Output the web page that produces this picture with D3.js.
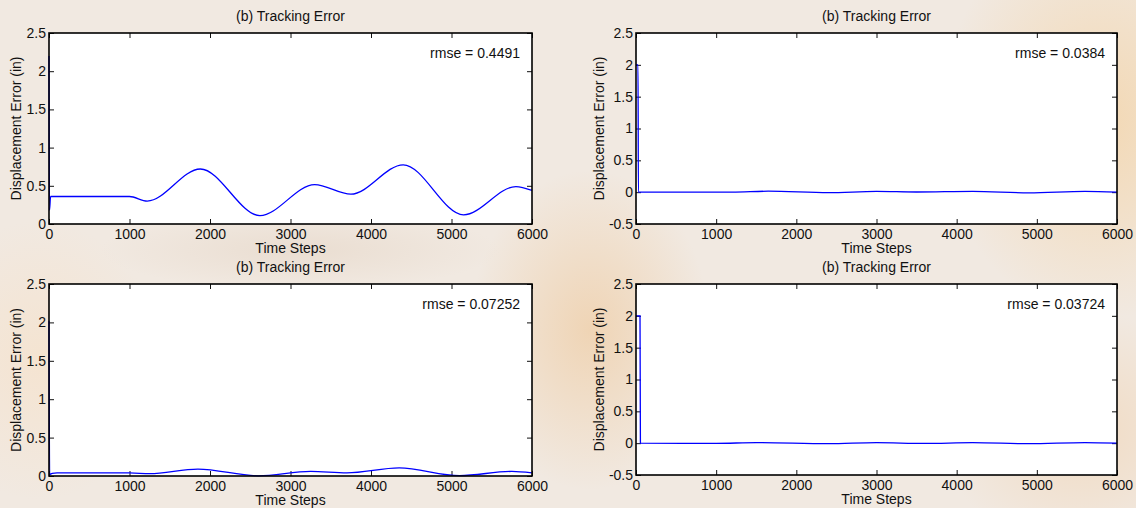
<!DOCTYPE html>
<html>
<head>
<meta charset="utf-8">
<script src="https://cdn.jsdelivr.net/npm/d3@7"></script>
<style>
  body { margin: 0; background: #f1e9e1; }
  svg { display: block; }
  text { font-family: "Liberation Sans", Arial, sans-serif; fill: #111; }
</style>
</head>
<body>
<svg id="chart" width="1136" height="508"></svg>
<script>
// tick labels
var timeTicks = [0, 1000, 2000, 3000, 4000, 5000, 6000];
var leftErrTicks = [0, 0.5, 1, 1.5, 2, 2.5];
var rightErrTicks = [-0.5, 0, 0.5, 1, 1.5, 2, 2.5];

var titleText = "(b) Tracking Error";
var xLabelText = "Time Steps";
var yLabelText = "Displacement Error (in)";
var rmseValues = ["0.4491", "0.0384", "0.07252", "0.03724"];

// error traces: [time step, displacement error]
var errTopLeft = [[0, 2.2], [6, 0.18], [20, 0.36], [1000, 0.36], [1220, 0.30], [1880, 0.72],
  [2620, 0.11], [3300, 0.515], [3750, 0.39], [4400, 0.775], [5150, 0.12], [5800, 0.49], [6000, 0.44]];
var errTopRight = [[0, 2.0], [25, 2.0], [30, 0.0], [1200, 0.0], [1650, 0.015], [2400, -0.008],
  [3000, 0.012], [3500, 0.003], [4200, 0.014], [4900, -0.01], [5600, 0.012], [6000, 0.0]];
var errBottomLeft = [[0, 2.02], [8, 0.02], [40, 0.035], [100, 0.04], [1000, 0.04], [1250, 0.03],
  [1850, 0.09], [2600, 0.002], [3250, 0.06], [3700, 0.04], [4350, 0.105], [5100, 0.005], [5750, 0.06], [6000, 0.04]];
var errBottomRight = [[0, 2.0], [50, 2.0], [55, 0.0], [1000, -0.003], [1500, 0.008], [2400, -0.008],
  [3000, 0.008], [3600, -0.004], [4200, 0.008], [4900, -0.008], [5600, 0.008], [6000, 0.0]];

var svg = d3.select("#chart");

// faint warm blotches standing in for the watermark behind the figure
var defs = svg.append("defs");
var blotches = [
  { cx: 1100, cy: 120, rx: 160, ry: 200, c: "#f3d6ae" },
  { cx: 590, cy: 330, rx: 120, ry: 160, c: "#efd2b0" },
  { cx: 40, cy: 360, rx: 120, ry: 140, c: "#f5e3cf" },
  { cx: 1080, cy: 430, rx: 140, ry: 120, c: "#f1d9bf" },
  { cx: 300, cy: 250, rx: 200, ry: 40, c: "#e9dccf" }
];
blotches.forEach(function(b, i) {
  var g = defs.append("radialGradient").attr("id", "bl" + i);
  g.append("stop").attr("offset", "0%").attr("stop-color", b.c).attr("stop-opacity", 0.9);
  g.append("stop").attr("offset", "100%").attr("stop-color", b.c).attr("stop-opacity", 0);
  svg.append("ellipse")
    .attr("cx", b.cx).attr("cy", b.cy).attr("rx", b.rx).attr("ry", b.ry)
    .attr("fill", "url(#bl" + i + ")");
});

var panels = [
  { data: errTopLeft, x0: 49, x1: 532, y0: 33, y1: 224, ymin: 0, ticks: leftErrTicks, yLabX: 16 },
  { data: errTopRight, x0: 636, x1: 1117, y0: 33, y1: 224, ymin: -0.5, ticks: rightErrTicks, yLabX: 599 },
  { data: errBottomLeft, x0: 49, x1: 532, y0: 284, y1: 476, ymin: 0, ticks: leftErrTicks, yLabX: 16 },
  { data: errBottomRight, x0: 636, x1: 1117, y0: 284, y1: 475, ymin: -0.5, ticks: rightErrTicks, yLabX: 599 }
];

panels.forEach(function(p, i) {
  var x = d3.scaleLinear().domain([0, 6000]).range([p.x0, p.x1]);
  var y = d3.scaleLinear().domain([p.ymin, 2.5]).range([p.y1, p.y0]);
  var g = svg.append("g");

  g.append("rect")
    .attr("x", p.x0).attr("y", p.y0)
    .attr("width", p.x1 - p.x0).attr("height", p.y1 - p.y0)
    .attr("fill", "#fff");

  var fmt = function(d) { return String(d); };

  var bottom = g.append("g").attr("transform", "translate(0," + p.y1 + ")")
    .call(d3.axisBottom(x).tickValues(timeTicks).tickFormat(fmt).tickSize(-5).tickPadding(5));
  var top = g.append("g").attr("transform", "translate(0," + p.y0 + ")")
    .call(d3.axisTop(x).tickValues(timeTicks).tickFormat("").tickSize(-5));
  var left = g.append("g").attr("transform", "translate(" + p.x0 + ",0)")
    .call(d3.axisLeft(y).tickValues(p.ticks).tickFormat(fmt).tickSize(-5).tickPadding(3));
  var right = g.append("g").attr("transform", "translate(" + p.x1 + ",0)")
    .call(d3.axisRight(y).tickValues(p.ticks).tickFormat("").tickSize(-5));

  [bottom, top, left, right].forEach(function(a) {
    a.select(".domain").remove();
    a.selectAll(".tick line").attr("stroke", "#111").attr("stroke-width", 1);
    a.selectAll("text").attr("font-size", 14).attr("fill", "#111")
      .style("font-family", "'Liberation Sans', Arial, sans-serif");
  });

  var line = d3.line()
    .x(function(d) { return x(d[0]); })
    .y(function(d) { return y(d[1]); })
    .curve(d3.curveMonotoneX);

  g.append("path")
    .datum(p.data)
    .attr("d", line)
    .attr("fill", "none")
    .attr("stroke", "#0000ff")
    .attr("stroke-width", 1.3);

  g.append("rect")
    .attr("x", p.x0).attr("y", p.y0)
    .attr("width", p.x1 - p.x0).attr("height", p.y1 - p.y0)
    .attr("fill", "none").attr("stroke", "#000").attr("stroke-width", 1.6);

  var cx = (p.x0 + p.x1) / 2;
  g.append("text")
    .attr("x", cx).attr("y", p.y0 - 12)
    .attr("text-anchor", "middle").attr("font-size", 14)
    .text(titleText);

  g.append("text")
    .attr("x", cx).attr("y", p.y1 + 29)
    .attr("text-anchor", "middle").attr("font-size", 14)
    .text(xLabelText);

  g.append("text")
    .attr("transform", "translate(" + (p.yLabX + 5) + "," + ((p.y0 + p.y1) / 2) + ") rotate(-90)")
    .attr("text-anchor", "middle").attr("font-size", 14)
    .text(yLabelText);

  g.append("text")
    .attr("x", p.x1 - 12).attr("y", p.y0 + 25)
    .attr("text-anchor", "end").attr("font-size", 14)
    .text("rmse = " + rmseValues[i]);
});
</script>
</body>
</html>
